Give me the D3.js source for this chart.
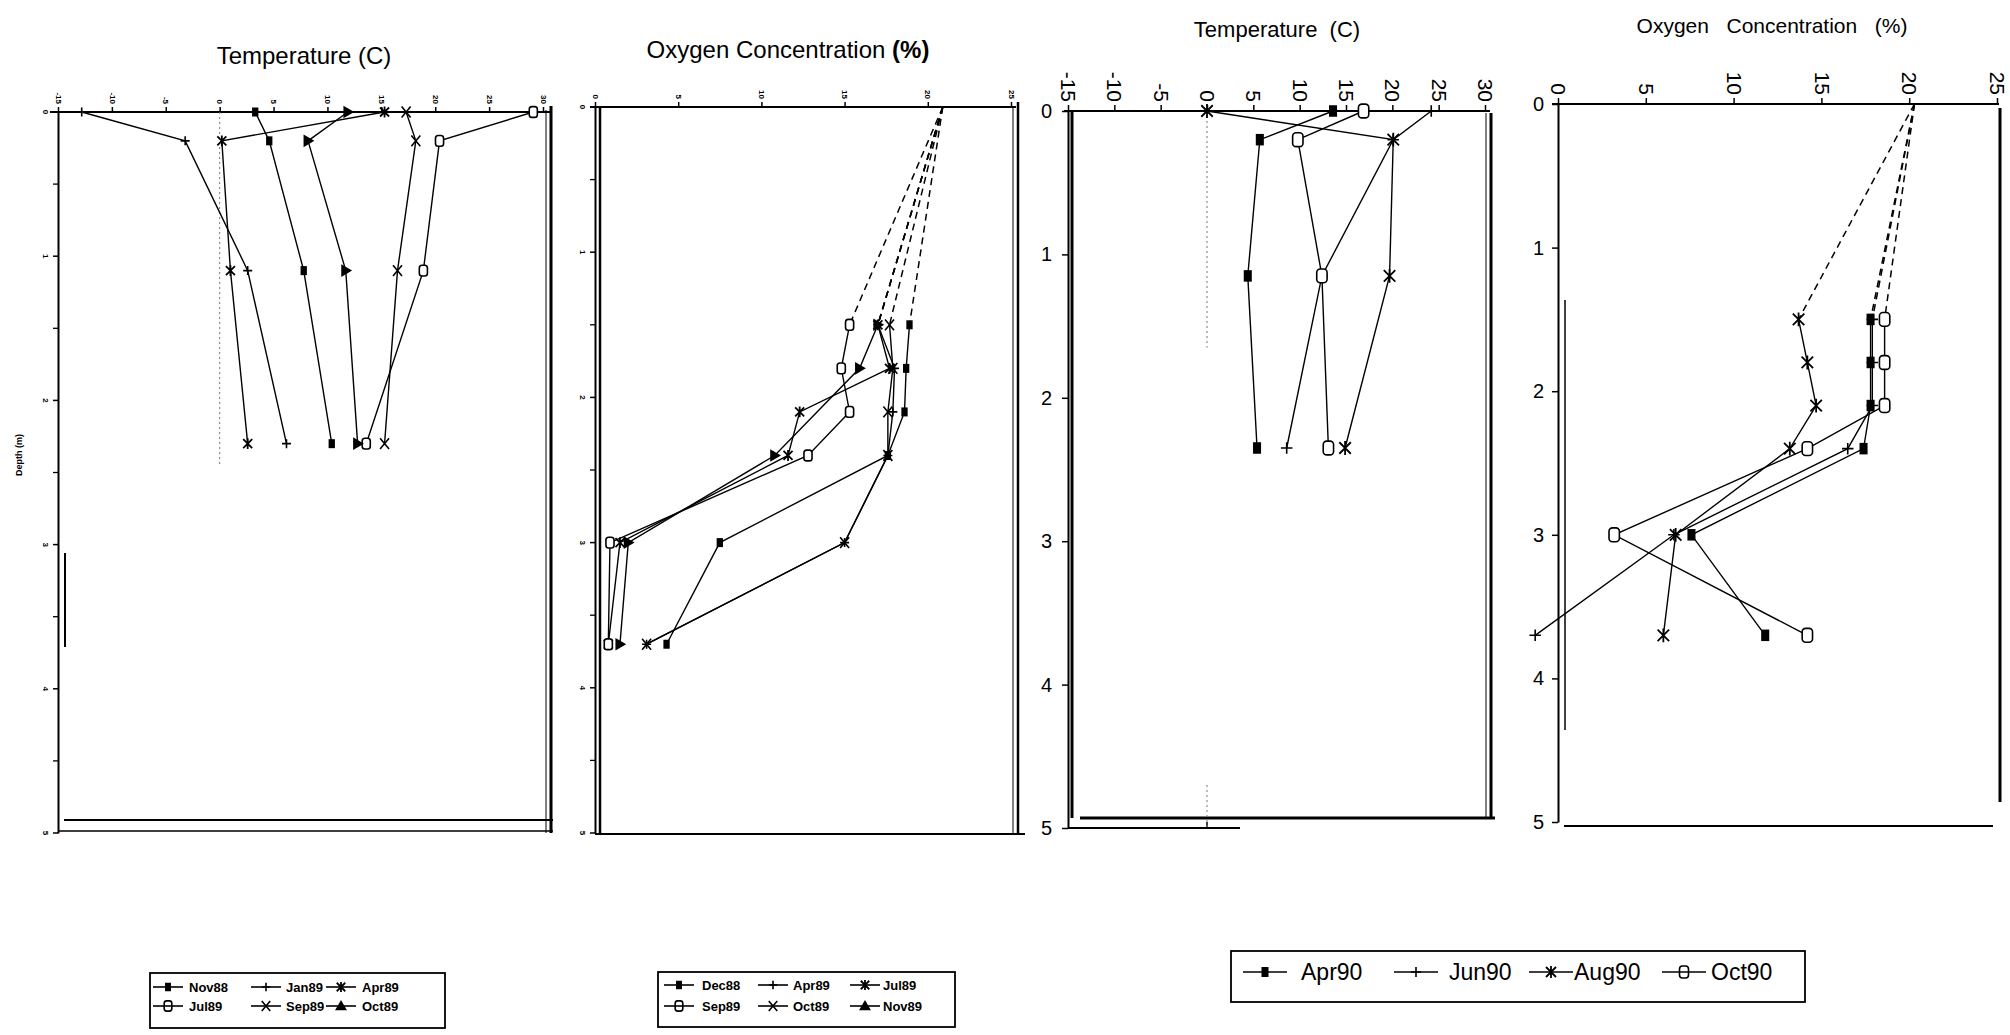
<!DOCTYPE html>
<html><head><meta charset="utf-8">
<script src="https://cdn.jsdelivr.net/npm/d3@7"></script>
<style>
body{margin:0;background:#fff;}
svg{display:block;}
text{font-family:"Liberation Sans",Arial,sans-serif;fill:#000;}
</style></head><body>
<script>
// ---------- Panel 1: Temperature 1988-89 ----------
const depthT1 = [0, 0.2, 1.1, 2.3];
const tempNov88 = [3.3, 4.6, 7.8, 10.4];
const tempJan89 = [-12.8, -3.2, 2.6, 6.2];
const tempApr89 = [15.3, 0.2, 1.0, 2.6];
const tempJul89 = [29.1, 20.4, 18.9, 13.6];
const tempSep89 = [17.3, 18.2, 16.5, 15.3];
const tempOct89 = [11.9, 8.2, 11.7, 12.8];
// ---------- Panel 2: Oxygen 1988-89 ----------
const depthO1 = [0, 1.5, 1.8, 2.1, 2.4, 3.0, 3.7];
const oxDec88 = [20.9, 18.9, 18.7, 18.6, 17.6, 7.5, 4.3];
const oxApr89 = [20.9, 17.0, 18.0, 17.9, 17.6, 15.0, 3.1];
const oxJul89 = [20.9, 17.0, 17.7, 12.3, 11.6, 1.5, 0.8];
const oxSep89 = [20.9, 15.3, 14.8, 15.3, 12.8, 0.9, 0.8];
const oxOct89 = [20.9, 17.7, 17.9, 17.6, 17.6, 15.0, 3.1];
const oxNov89 = [20.9, 17.0, 15.9, null, 10.8, 2.0, 1.5];
// ---------- Panel 3: Temperature 1990 ----------
const depthT2 = [0, 0.2, 1.15, 2.35];
const tempApr90 = [13.6, 5.7, 4.4, 5.4];
const tempJun90 = [24.2, 20.1, 12.4, 8.6];
const tempAug90 = [0, 20.1, 19.7, 14.9];
const tempOct90 = [16.9, 9.8, 12.4, 13.1];
// ---------- Panel 4: Oxygen 1990 ----------
const depthO2 = [0, 1.5, 1.8, 2.1, 2.4, 3.0, 3.7];
const oxApr90 = [20.3, 17.8, 17.8, 17.8, 17.4, 7.6, 11.8];
const oxJun90 = [20.3, 17.9, 17.9, 17.9, 16.5, 6.6, -1.3];
const oxAug90 = [20.3, 13.7, 14.2, 14.7, 13.2, 6.7, 6.0];
const oxOct90 = [20.3, 18.6, 18.6, 18.6, 14.2, 3.2, 14.2];

const tempTicks = [-15, -10, -5, 0, 5, 10, 15, 20, 25, 30];
const oxTicks = [0, 5, 10, 15, 20, 25];
const depthTicks = [0, 1, 2, 3, 4, 5];
const depthHalfTicks = [0.5, 1.5, 2.5, 3.5, 4.5];
const legendA = ["Nov88", "Jan89", "Apr89", "Jul89", "Sep89", "Oct89"];
const legendB = ["Dec88", "Apr89", "Jul89", "Sep89", "Oct89", "Nov89"];
const legendC = ["Apr90", "Jun90", "Aug90", "Oct90"];
const symbols6 = ["sq", "plus", "ast", "osq", "x", "tri"];
const symbols4 = ["sq", "plus", "ast", "osq"];

const W = 2010, H = 1035;
const svg = d3.select("body").append("svg").attr("width", W).attr("height", H);
svg.append("rect").attr("width", W).attr("height", H).attr("fill", "#fff");

function marker(g, type, x, y, s, inLegend) {
  s = s || 1;
  if (type === "sq") {
    g.append("rect").attr("x", x - 3.5 * s).attr("y", y - 5 * s).attr("width", 7 * s).attr("height", 10 * s).attr("fill", "#000");
  } else if (type === "osq") {
    g.append("rect").attr("x", x - 4.5 * s).attr("y", y - 6 * s).attr("width", 9 * s).attr("height", 12 * s)
      .attr("rx", 3 * s).attr("fill", inLegend ? "none" : "#fff").attr("stroke", "#000").attr("stroke-width", 1.6);
  } else if (type === "plus") {
    g.append("path").attr("d", `M${x - 5 * s},${y}H${x + 5 * s}M${x},${y - 5 * s}V${y + 5 * s}`).attr("stroke", "#000").attr("stroke-width", 1.6).attr("fill", "none");
  } else if (type === "ast") {
    g.append("path").attr("d", `M${x - 5 * s},${y - 5 * s}L${x + 5 * s},${y + 5 * s}M${x - 5 * s},${y + 5 * s}L${x + 5 * s},${y - 5 * s}M${x},${y - 6 * s}V${y + 6 * s}`).attr("stroke", "#000").attr("stroke-width", 1.8).attr("fill", "none");
  } else if (type === "x") {
    g.append("path").attr("d", `M${x - 5 * s},${y - 6 * s}L${x + 5 * s},${y + 6 * s}M${x - 5 * s},${y + 6 * s}L${x + 5 * s},${y - 6 * s}`).attr("stroke", "#000").attr("stroke-width", 1.6).attr("fill", "none");
  } else if (type === "tri") {
    const d = inLegend
      ? `M${x},${y - 7 * s}L${x + 7 * s},${y + 5 * s}L${x - 7 * s},${y + 5 * s}Z`
      : `M${x - 5 * s},${y - 7 * s}L${x + 7 * s},${y}L${x - 5 * s},${y + 7 * s}Z`;
    g.append("path").attr("d", d).attr("fill", "#000");
  }
}

function line(g, x1, y1, x2, y2, w, extra) {
  const l = g.append("line").attr("x1", x1).attr("y1", y1).attr("x2", x2).attr("y2", y2)
    .attr("stroke", "#000").attr("stroke-width", w || 1.5);
  if (extra) l.attr("stroke-dasharray", extra);
  return l;
}

function panel(cfg) {
  const x = d3.scaleLinear().domain(cfg.xd).range(cfg.xr);
  const y = d3.scaleLinear().domain([0, 5]).range(cfg.yr);
  const g = svg.append("g");

  // top axis
  const ax = d3.axisTop(x).tickValues(cfg.ticks).tickSize(cfg.tSize).tickSizeOuter(0).tickFormat(d => String(d));
  const ag = g.append("g").attr("transform", `translate(0,${cfg.yr[0]})`).call(ax);
  ag.select(".domain").attr("stroke-width", cfg.axW).attr("d", `M${cfg.topLine[0]},0H${cfg.topLine[1]}`);
  ag.selectAll(".tick line").attr("stroke-width", 1.5);
  ag.selectAll(".tick text")
    .attr("transform", "rotate(90)").attr("x", -(cfg.tSize + 3)).attr("y", 0).attr("dy", "0.35em")
    .attr("text-anchor", "end").style("font-size", cfg.fs + "px").style("font-weight", cfg.tiny ? "bold" : "normal")
    .style("font-family", '"Liberation Sans",Arial,sans-serif');

  // left axis
  const ay = d3.axisLeft(y).tickValues(depthTicks).tickSize(cfg.tSize).tickPadding(cfg.lPad).tickSizeOuter(0).tickFormat(d => String(d));
  const lg = g.append("g").attr("transform", `translate(${cfg.xr[0]},0)`).call(ay);
  lg.select(".domain").attr("stroke-width", cfg.axW);
  lg.selectAll(".tick line").attr("stroke-width", 1.5);
  const lt = lg.selectAll(".tick text").style("font-size", cfg.lfs + "px")
    .style("font-family", '"Liberation Sans",Arial,sans-serif').style("font-weight", cfg.tiny ? "bold" : "normal");
  if (cfg.tiny) {
    lt.attr("transform", function(d) { return `rotate(90,${-cfg.tSize - cfg.lPad - 3},${y(d)})`; })
      .attr("x", -cfg.tSize - cfg.lPad - 3).attr("y", d => y(d)).attr("dy", "0.35em").attr("text-anchor", "middle");
    lg.selectAll(".tick").attr("transform", null);
    lg.selectAll(".tick line").attr("y1", d => y(d)).attr("y2", d => y(d));
    g.append("g").selectAll("line").data(depthHalfTicks).join("line")
      .attr("x1", cfg.xr[0] - cfg.tSize).attr("x2", cfg.xr[0]).attr("y1", d => y(d)).attr("y2", d => y(d))
      .attr("stroke", "#000").attr("stroke-width", 1.3);
  }

  // frame
  cfg.frame.forEach(f => line(g, f[0], f[1], f[2], f[3], f[4]));

  // zero reference (dotted)
  if (cfg.zeroDots) cfg.zeroDots.forEach(r => {
    line(g, x(0), y(r[0]), x(0), y(r[1]), 1, "2,3").attr("stroke", "#777");
  });

  // series
  const lineGen = d3.line().x(d => x(d.v)).y(d => y(d.d));
  cfg.series.forEach(s => {
    const pts = s.values.map((v, i) => ({ v: v, d: s.depths[i] })).filter(p => p.v !== null);
    if (cfg.dashFirst) {
      g.append("path").attr("d", lineGen(pts.slice(0, 2))).attr("fill", "none").attr("stroke", "#000")
        .attr("stroke-width", 1.5).attr("stroke-dasharray", "7,5");
      g.append("path").attr("d", lineGen(pts.slice(1))).attr("fill", "none").attr("stroke", "#000").attr("stroke-width", 1.4);
    } else {
      g.append("path").attr("d", lineGen(pts)).attr("fill", "none").attr("stroke", "#000").attr("stroke-width", 1.4);
    }
  });
  cfg.series.forEach(s => {
    s.values.forEach((v, i) => {
      if (v === null) return;
      if (cfg.dashFirst && i === 0) return;
      marker(g, s.sym, x(v), y(s.depths[i]), cfg.ms, false);
    });
  });

  // title
  const t = g.append("text").attr("x", cfg.title.x).attr("y", cfg.title.y).attr("text-anchor", "middle")
    .style("font-size", cfg.title.fs + "px").style("white-space", "pre").attr("xml:space", "preserve");
  cfg.title.parts.forEach(p => t.append("tspan").text(p[0]).style("font-weight", p[1] ? "bold" : "normal"));
}

panel({
  xd: [-15, 30], xr: [58, 543], yr: [112, 833], ticks: tempTicks, tSize: 5, lPad: 4, fs: 8, lfs: 8, tiny: true, axW: 2,
  topLine: [50, 551], ms: 0.9,
  frame: [[546, 110, 546, 833, 1], [551, 106, 551, 833, 3], [64, 820, 553, 820, 2], [58, 831, 553, 831, 1.5], [65, 553, 65, 647, 2]],
  zeroDots: [[0, 2.45]],
  series: [
    { sym: "sq", depths: depthT1, values: tempNov88 },
    { sym: "plus", depths: depthT1, values: tempJan89 },
    { sym: "ast", depths: depthT1, values: tempApr89 },
    { sym: "osq", depths: depthT1, values: tempJul89 },
    { sym: "x", depths: depthT1, values: tempSep89 },
    { sym: "tri", depths: depthT1, values: tempOct89 }
  ],
  title: { x: 304, y: 64, fs: 24, parts: [["Temperature (C)", false]] }
});

panel({
  xd: [0, 25], xr: [595, 1011], yr: [107, 833], ticks: oxTicks, tSize: 5, lPad: 4, fs: 8, lfs: 8, tiny: true, axW: 2,
  topLine: [590, 1016], ms: 0.9, dashFirst: true,
  frame: [[600, 107, 600, 833, 2.5], [1013, 107, 1013, 833, 1], [1018, 102, 1018, 833, 2.5], [595, 834, 1025, 834, 2]],
  series: [
    { sym: "sq", depths: depthO1, values: oxDec88 },
    { sym: "plus", depths: depthO1, values: oxApr89 },
    { sym: "ast", depths: depthO1, values: oxJul89 },
    { sym: "osq", depths: depthO1, values: oxSep89 },
    { sym: "x", depths: depthO1, values: oxOct89 },
    { sym: "tri", depths: depthO1, values: oxNov89 }
  ],
  title: { x: 788, y: 58, fs: 24, parts: [["Oxygen Concentration ", false], ["(%)", true]] }
});

panel({
  xd: [-15, 30], xr: [1068, 1485], yr: [111, 828], ticks: tempTicks, tSize: 6, lPad: 10, fs: 21, lfs: 20, tiny: false, axW: 2,
  topLine: [1064, 1490], ms: 1.15,
  frame: [[1072, 111, 1072, 818, 3], [1486, 113, 1486, 818, 1], [1491, 113, 1491, 818, 3], [1080, 818, 1495, 818, 3], [1068, 828, 1240, 828, 2], [1207, 828, 1207, 822, 1.5]],
  zeroDots: [[0, 1.65], [4.7, 5]],
  series: [
    { sym: "sq", depths: depthT2, values: tempApr90 },
    { sym: "plus", depths: depthT2, values: tempJun90 },
    { sym: "ast", depths: depthT2, values: tempAug90 },
    { sym: "osq", depths: depthT2, values: tempOct90 }
  ],
  title: { x: 1277, y: 37, fs: 22, parts: [["Temperature  (C)", false]] }
});

panel({
  xd: [0, 25], xr: [1558, 1997], yr: [104, 822], ticks: oxTicks, tSize: 6, lPad: 8, fs: 21, lfs: 20, tiny: false, axW: 2,
  topLine: [1552, 1999], ms: 1.15, dashFirst: true,
  frame: [[2000, 108, 2000, 802, 3], [1564, 826, 1993, 826, 2], [1565, 300, 1565, 730, 1.5]],
  series: [
    { sym: "sq", depths: depthO2, values: oxApr90 },
    { sym: "plus", depths: depthO2, values: oxJun90 },
    { sym: "ast", depths: depthO2, values: oxAug90 },
    { sym: "osq", depths: depthO2, values: oxOct90 }
  ],
  title: { x: 1772, y: 33, fs: 21, parts: [["Oxygen   Concentration   (%)", false]] }
});

// Depth label
svg.append("text").attr("transform", "translate(22,455) rotate(-90)").attr("text-anchor", "middle")
  .style("font-size", "9px").style("font-weight", "bold").text("Depth (m)");

// Legends
function legend(names, syms, box, cols, textX, rows, fs, bold, ms, half) {
  const g = svg.append("g");
  g.append("rect").attr("x", box[0]).attr("y", box[1]).attr("width", box[2] - box[0]).attr("height", box[3] - box[1])
    .attr("fill", "none").attr("stroke", "#000").attr("stroke-width", 1.8);
  names.forEach((n, i) => {
    const c = i % cols.length, r = Math.floor(i / cols.length);
    const cx = cols[c], cy = rows[r];
    line(g, cx - half, cy, cx + half, cy, 1.6);
    marker(g, syms[i], cx, cy, ms, true);
    g.append("text").attr("x", textX[c]).attr("y", cy).attr("dy", "0.36em")
      .style("font-size", fs + "px").style("font-weight", bold ? "bold" : "normal").text(n);
  });
}
legend(legendA, symbols6, [150, 973, 445, 1028], [168, 266, 341], [189, 286, 362], [987, 1006], 13, true, 0.85, 15);
legend(legendB, symbols6, [658, 972, 955, 1027], [679, 773, 865], [702, 793, 883], [985, 1006], 13, true, 0.85, 15);
legend(legendC, symbols4, [1231, 951, 1805, 1002], [1265, 1416, 1551, 1684], [1301, 1449, 1574, 1711], [972], 23, false, 1.0, 22);
</script>
</body></html>
